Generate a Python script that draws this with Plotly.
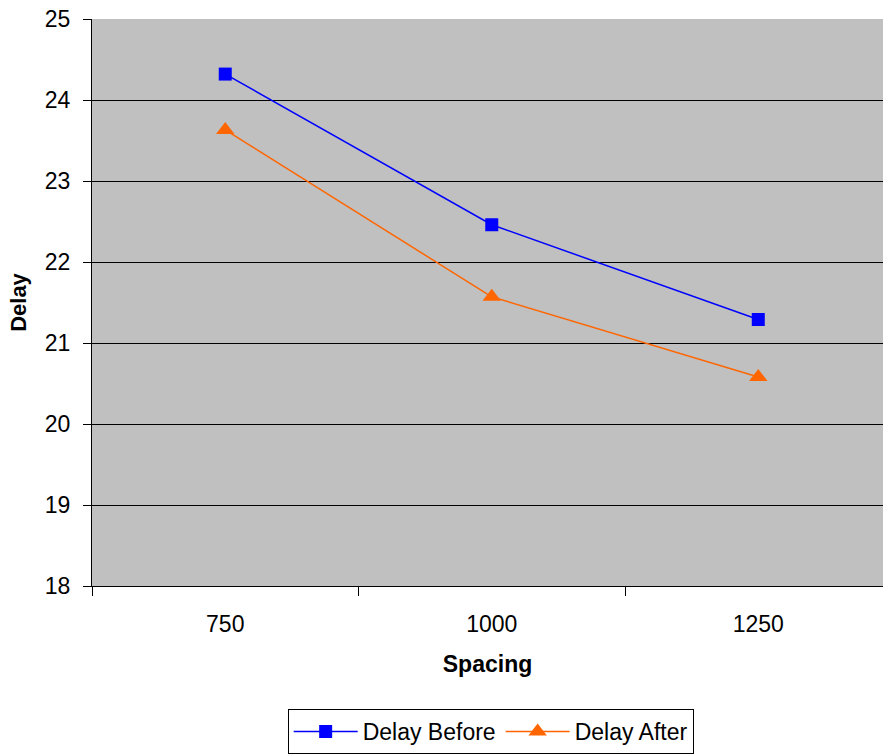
import plotly.graph_objects as go

spacing = ["750", "1000", "1250"]
delay_before = [24.32, 22.46, 21.29]
delay_after = [23.63, 21.57, 20.58]
y_ticks = [18, 19, 20, 21, 22, 23, 24, 25]

FONT = "Liberation Sans, Arial, sans-serif"
xpos = list(range(len(spacing)))

fig = go.Figure()
fig.add_trace(go.Scatter(
    x=xpos, y=delay_before, name="Delay Before", mode="lines+markers",
    line=dict(color="#0000FF", width=1.5),
    marker=dict(symbol="square", size=13, color="#0000FF"),
))
fig.add_trace(go.Scatter(
    x=xpos, y=delay_after, name="Delay After", mode="lines+markers",
    line=dict(color="#FF6600", width=1.5),
    marker=dict(symbol="triangle-up", size=16, color="#FF6600"),
))

fig.update_layout(
    width=883, height=754,
    margin=dict(l=92, r=0, t=19, b=167),
    paper_bgcolor="white", plot_bgcolor="#C0C0C0",
    font=dict(family=FONT, size=22, color="black"),
    showlegend=True,
    legend=dict(
        orientation="h", x=0.504, xanchor="center", y=-0.216, yanchor="top",
        bordercolor="black", borderwidth=1, font=dict(size=23),
        itemwidth=64, tracegroupgap=0,
    ),
    xaxis=dict(
        range=[-0.5, 2.468], tickvals=xpos, ticktext=spacing,
        ticks="", showgrid=False, zeroline=False,
        showline=True, linecolor="black", linewidth=1,
        tickfont=dict(size=23), ticklabelstandoff=17,
        minor=dict(tick0=-0.5, dtick=1, ticks="outside", ticklen=9,
                   tickcolor="black", showgrid=False),
        title=dict(text="<b>Spacing</b>", font=dict(size=23), standoff=20),
    ),
    yaxis=dict(
        range=[18, 25], tickvals=y_ticks,
        ticks="outside", ticklen=8, tickcolor="black",
        showgrid=True, gridcolor="black", gridwidth=1, zeroline=False,
        showline=True, linecolor="black", linewidth=1,
        tickfont=dict(size=23), ticklabelstandoff=8,
        title=dict(text="<b>Delay</b>", font=dict(size=22), standoff=12),
    ),
)

fig.write_html("out.html")
